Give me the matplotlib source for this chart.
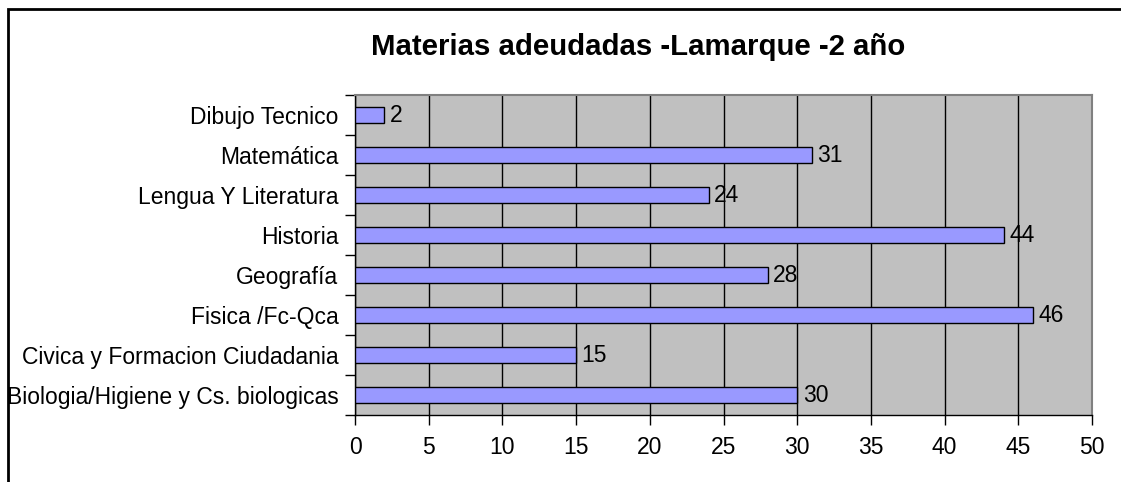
import matplotlib
matplotlib.use("Agg")
import matplotlib.pyplot as plt
from matplotlib.patches import Rectangle
import numpy as np

plt.rcParams['font.family'] = ['Liberation Sans', 'DejaVu Sans']

title = "Materias adeudadas -Lamarque -2 año"
categories = [
    "Biologia/Higiene y Cs. biologicas",
    "Civica y Formacion Ciudadania",
    "Fisica /Fc-Qca",
    "Geografía",
    "Historia",
    "Lengua Y Literatura",
    "Matemática",
    "Dibujo Tecnico",
]
values = [30, 15, 46, 28, 44, 24, 31, 2]
xticks = [0, 5, 10, 15, 20, 25, 30, 35, 40, 45, 50]

W, H = 1121, 482
fig = plt.figure(figsize=(W / 100, H / 100), dpi=100)
fig.patch.set_facecolor('white')

# outer chart border (cut by image edges on right/bottom)
fig.patches.append(Rectangle((7.5 / W, -0.1), 1.2, 1 - 8.5 / H + 0.1,
                             transform=fig.transFigure, fill=False,
                             edgecolor='black', linewidth=2))

left, right, top, bottom = 355, 1092, 95, 415
ax = fig.add_axes([left / W, 1 - bottom / H, (right - left) / W, (bottom - top) / H])
ax.set_facecolor('#C0C0C0')

fs = 16.5
y = np.arange(len(categories))
ax.barh(y, values, height=0.4, color='#9999FF', edgecolor='black', linewidth=1, zorder=3)

ax.set_xlim(0, 50)
ax.set_ylim(-0.5, len(categories) - 0.5)
ax.set_xticks(xticks)
ax.set_xticklabels([str(t) for t in xticks], fontsize=fs)
ax.set_yticks(y)
ax.set_yticklabels(categories, fontsize=fs)
ax.set_yticks(np.arange(-0.5, len(categories), 1.0), minor=True)
ax.tick_params(axis='y', which='major', length=0, pad=12)
ax.tick_params(axis='y', which='minor', length=7, width=1, direction='out', color='black')
ax.tick_params(axis='x', which='major', length=7, width=1, direction='out', pad=8, color='black')

ax.grid(axis='x', color='black', linewidth=1, zorder=1)
ax.set_axisbelow(True)
for s in ['left', 'bottom']:
    ax.spines[s].set_color('black')
    ax.spines[s].set_linewidth(1)
for s in ['top', 'right']:
    ax.spines[s].set_color('#808080')
    ax.spines[s].set_linewidth(1.5)

for yi, v in zip(y, values):
    ax.annotate(str(v), (v, yi), xytext=(4, 0), textcoords='offset points',
                va='center', ha='left', fontsize=fs, zorder=4)

fig.text(638.5 / W, 1 - 55 / H, title, ha='center', va='baseline',
         fontsize=21.2, fontweight='bold')

fig.savefig('out.png', dpi=100)
